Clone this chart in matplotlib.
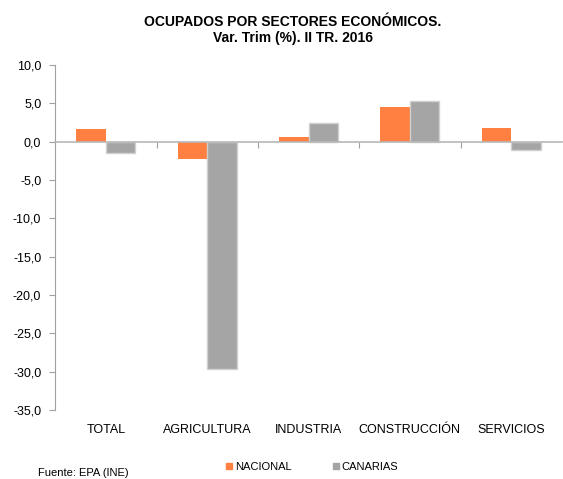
import numpy as np
import matplotlib.pyplot as plt
from matplotlib.ticker import FuncFormatter
from matplotlib.lines import Line2D

plt.rcParams['font.family'] = ['Liberation Sans', 'DejaVu Sans']

# Data
sectores = ['TOTAL', 'AGRICULTURA', 'INDUSTRIA', 'CONSTRUCCIÓN', 'SERVICIOS']
nacional = [1.7, -2.2, 0.6, 4.5, 1.8]
canarias = [-1.4, -29.6, 2.4, 5.3, -1.1]
yticks = [10, 5, 0, -5, -10, -15, -20, -25, -30, -35]

fig = plt.figure(figsize=(5.63, 4.79), dpi=100)
ax = fig.add_axes([0.098, 0.144, 0.9, 0.72])

x = np.arange(len(sectores))
w = 0.29
ax.bar(x - w / 2, nacional, w, color='#FF8040', zorder=2)
ax.bar(x + w / 2, canarias, w, color='#A5A5A5', edgecolor='#D0D0D0', linewidth=1, zorder=2)

ax.set_xlim(-0.5, len(sectores) - 0.5)
ax.set_ylim(-35, 10)
ax.set_yticks(yticks)
ax.yaxis.set_major_formatter(FuncFormatter(lambda v, p: f'{v:.1f}'.replace('.', ',')))
ax.tick_params(axis='y', labelsize=9, length=4, color='#A0A0A0', pad=6)

# horizontal axis at zero with ticks between categories
for s in ['top', 'right']:
    ax.spines[s].set_visible(False)
ax.spines['left'].set_color('#A0A0A0')
ax.spines['bottom'].set_position(('data', 0))
ax.spines['bottom'].set_color('#B8B8B8')
ax.spines['bottom'].set_linewidth(1.2)
ax.set_xticks(np.arange(0.5, len(sectores) - 1, 1))
ax.set_xticklabels([])
ax.tick_params(axis='x', length=4, color='#A0A0A0')

for i, s in enumerate(sectores):
    ax.text(i, -37.6, s, ha='center', va='center', fontsize=9)

fig.text(0.52, 0.955, 'OCUPADOS POR SECTORES ECONÓMICOS.', ha='center', va='center',
         fontsize=10, fontweight='bold')
fig.text(0.52, 0.921, 'Var. Trim (%). II TR. 2016', ha='center', va='center',
         fontsize=10, fontweight='bold')

handles = [Line2D([], [], marker='s', ls='', color='#FF8040', markersize=5),
           Line2D([], [], marker='s', ls='', color='#A5A5A5', markersize=5)]
fig.legend(handles, ['NACIONAL', 'CANARIAS'], loc='center', bbox_to_anchor=(0.553, 0.025),
           ncol=2, frameon=False, fontsize=8, handletextpad=0.1, columnspacing=3.6,
           handlelength=0.8)

fig.text(0.068, 0.003, 'Fuente: EPA (INE)', fontsize=8, va='bottom', ha='left')

fig.savefig('out.png', dpi=100)
